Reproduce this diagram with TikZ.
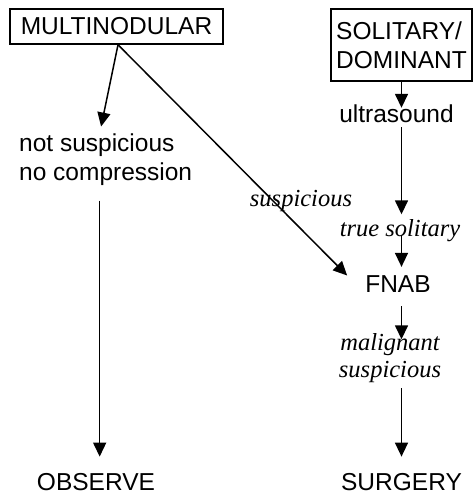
\documentclass[tikz,border=0pt]{standalone}
\usepackage{fontspec}
\setmainfont{Liberation Serif}
\setsansfont{Liberation Sans}
\usetikzlibrary{arrows.meta}
\tikzset{
  sf/.style={font=\sffamily\fontsize{24.5}{29}\selectfont, inner sep=0pt},
  it/.style={font=\rmfamily\itshape\fontsize{24.5}{27}\selectfont, inner sep=0pt},
  boxed/.style={sf, draw, line width=1.5pt},
  arr/.style={line width=1.5pt, -{Triangle[length=14pt,width=13pt]}},
}
\begin{document}
\begin{tikzpicture}[x=1pt,y=-1pt]
\path[use as bounding box] (0,0) rectangle (473,495);
\node[boxed, minimum width=213pt, minimum height=35pt] (mult) at (116.5,26.5) {MULTINODULAR};
\node[boxed, minimum width=141pt, minimum height=72pt, align=left] (sol) at (401.5,45) {SOLITARY/\\DOMINANT};
\node[sf, align=left, anchor=west] (nsc) at (19,159.5) {not suspicious\\no compression};
\node[sf] (ultra) at (396.5,114) {ultrasound};
\node[it, anchor=base] (tsol) at (400,236) {true solitary};
\node[it, anchor=base] (susp) at (301,206) {suspicious};
\node[sf] (fnab) at (398,284.5) {FNAB};
\node[it, align=center, anchor=base] (mal) at (390,377) {malignant\\suspicious};
\node[sf] (obs) at (96,482) {OBSERVE};
\node[sf] (surg) at (401.5,482) {SURGERY};

\draw[arr, shorten >=7pt] ([xshift=1.5pt]mult.south) -- ([xshift=-6pt]nsc.north);
\draw[arr] ([xshift=1.5pt]mult.south) -- ([xshift=-18pt,yshift=9pt]fnab.west);
\draw[arr, shorten >=-3pt] (sol.south) -- (sol.south |- ultra.north);
\draw[arr, shorten <=4pt, shorten >=4.5pt] (ultra.south -| sol.south) -- (tsol.north -| sol.south);
\draw[arr, shorten <=-6pt, shorten >=9pt] (tsol.south -| sol.south) -- (fnab.north -| sol.south);
\draw[arr, shorten <=13pt, shorten >=-6.5pt] (fnab.south -| sol.south) -- (mal.north -| sol.south);
\draw[arr, shorten <=6pt, shorten >=16.5pt] (mal.south -| sol.south) -- (surg.north -| sol.south);
\draw[arr, shorten <=15pt, shorten >=16.5pt] ([xshift=-6pt]nsc.south) -- ([xshift=-6pt]nsc.south |- obs.north);
\end{tikzpicture}
\end{document}
